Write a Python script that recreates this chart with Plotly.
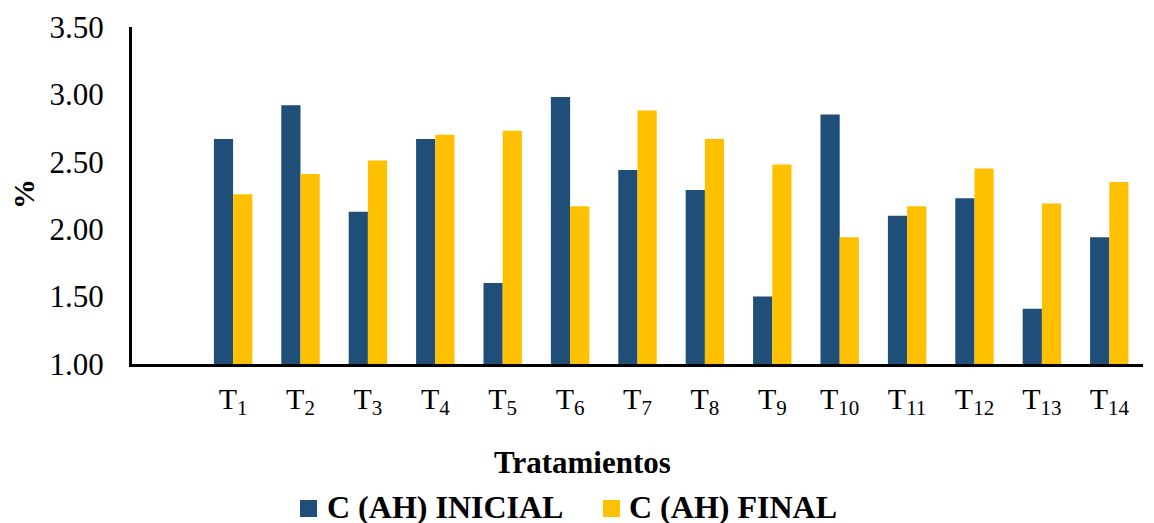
import plotly.graph_objects as go

# Treatment labels (subscripted) and the two carbon series, in %
treatments = ["T<sub>%d</sub>" % i for i in range(1, 15)]
c_ah_inicial = [2.67, 2.92, 2.13, 2.67, 1.60, 2.98, 2.44, 2.29, 1.50, 2.85, 2.10, 2.23, 1.41, 1.94]
c_ah_final = [2.26, 2.41, 2.51, 2.70, 2.73, 2.17, 2.88, 2.67, 2.48, 1.94, 2.17, 2.45, 2.19, 2.35]
y_ticks = [1.00, 1.50, 2.00, 2.50, 3.00, 3.50]
series_names = ["C (AH) INICIAL", "C (AH) FINAL"]
series_colors = ["#1F4E79", "#FFC000"]

# slot 0 is left empty, treatments occupy slots 1..14
positions = list(range(1, len(treatments) + 1))

FONT = "Liberation Serif"
W, H = 1154, 523
L, R, T, B = 132, 11, 27, 159
PW, PH = W - L - R, H - T - B


def px(x):
    """page pixel column -> paper x"""
    return (x - L) / PW


def py(y):
    """page pixel row -> paper y"""
    return (H - B - y) / PH


fig = go.Figure()
for name, vals, col in zip(series_names, [c_ah_inicial, c_ah_final], series_colors):
    fig.add_trace(go.Bar(x=positions, y=vals, name=name, showlegend=False,
                         marker=dict(color=col, line=dict(width=0))))

# legend below the x-axis title: colour swatch + bold label per series
legend_swatch_left = [300, 603]
legend_text_left = [325, 627]
shapes, annotations = [], []
for name, col, sx, tx in zip(series_names, series_colors, legend_swatch_left, legend_text_left):
    shapes.append(dict(type="rect", xref="paper", yref="paper",
                       x0=px(sx), x1=px(sx + 17), y0=py(517), y1=py(500),
                       fillcolor=col, line=dict(width=0), layer="above"))
    annotations.append(dict(text="<b>%s</b>" % name, xref="paper", yref="paper",
                            x=px(tx), y=py(507), xanchor="left", yanchor="middle",
                            showarrow=False,
                            font=dict(family=FONT, size=32, color="black")))

annotations += [
    dict(text="<b>Tratamientos</b>", xref="paper", yref="paper",
         x=px(582.5), y=py(462), xanchor="center", yanchor="middle",
         showarrow=False, font=dict(family=FONT, size=31, color="black")),
    dict(text="<b>%</b>", xref="paper", yref="paper",
         x=px(23), y=py(194), xanchor="center", yanchor="middle", textangle=-90,
         showarrow=False, font=dict(family=FONT, size=30, color="black")),
]

fig.update_layout(
    width=W, height=H,
    margin=dict(l=L, r=R, t=T, b=B, autoexpand=False),
    paper_bgcolor="white", plot_bgcolor="white",
    barmode="group", bargap=0.43, bargroupgap=0,
    font=dict(family=FONT, color="black", size=30),
    showlegend=False,
    xaxis=dict(range=[-0.5, 14.5], tickmode="array", tickvals=positions,
               ticktext=treatments, showgrid=False, zeroline=False,
               showline=True, linecolor="black", linewidth=3,
               ticks="", tickfont=dict(family=FONT, size=30),
               ticklabelstandoff=6, fixedrange=True),
    yaxis=dict(range=[1.0, 3.5], tickmode="array", tickvals=y_ticks,
               ticktext=["%.2f" % v for v in y_ticks], showgrid=False,
               zeroline=False, showline=True, linecolor="black", linewidth=3,
               ticks="", tickfont=dict(family=FONT, size=31),
               ticklabelstandoff=19, fixedrange=True),
    shapes=shapes,
    annotations=annotations,
)

fig.write_html("out.html")
